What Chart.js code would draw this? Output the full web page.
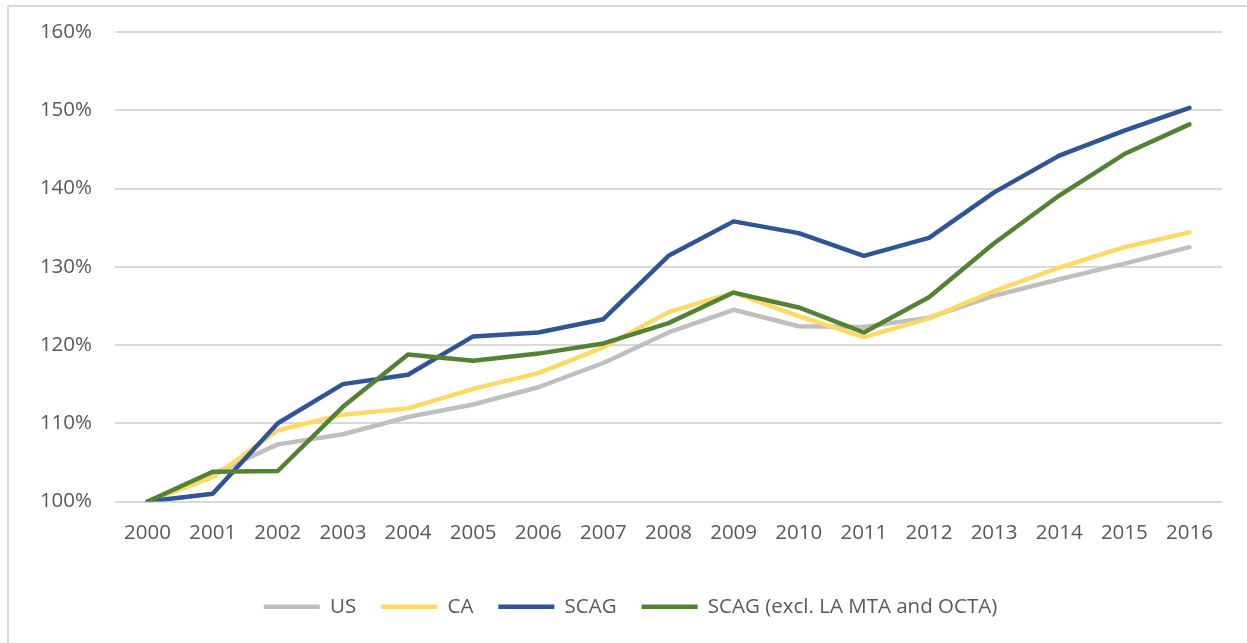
<!DOCTYPE html>
<html>
<head>
<meta charset="utf-8">
<script src="https://cdn.jsdelivr.net/npm/chart.js@4/dist/chart.umd.min.js"></script>
<style>
  html, body { margin: 0; padding: 0; background: #ffffff; }
  #frame { position: absolute; left: 7px; top: 5px; width: 1240px; height: 638px;
           border-left: 2px solid #d9d9d9; border-top: 2px solid #d9d9d9; }
  #wrap { position: absolute; left: 0; top: 0; width: 1238px; height: 636px; }
</style>
</head>
<body>
<div id="frame"><div id="wrap"><canvas id="c"></canvas></div></div>
<script>
const years = ['2000','2001','2002','2003','2004','2005','2006','2007','2008','2009','2010','2011','2012','2013','2014','2015','2016'];
const usValues   = [100, 103.5, 107.3, 108.6, 110.8, 112.4, 114.6, 117.7, 121.6, 124.5, 122.4, 122.3, 123.5, 126.3, 128.4, 130.4, 132.5];
const caValues   = [100, 103.1, 109.1, 111.1, 111.9, 114.4, 116.4, 119.7, 124.2, 126.7, 123.7, 121.0, 123.4, 126.9, 129.9, 132.5, 134.4];
const scagValues = [100, 101.0, 110.0, 115.0, 116.2, 121.1, 121.6, 123.3, 131.4, 135.8, 134.3, 131.4, 133.7, 139.5, 144.2, 147.4, 150.3];
const scagExValues = [100, 103.8, 103.9, 112.1, 118.8, 118.0, 118.9, 120.2, 122.8, 126.7, 124.8, 121.6, 126.1, 133.0, 139.1, 144.4, 148.2];
const seriesNames = ['US', 'CA', 'SCAG', 'SCAG (excl. LA MTA and OCTA)'];
const yTicks = [100, 110, 120, 130, 140, 150, 160];

const FONT = '"Open Sans", "Liberation Sans", sans-serif';
const TEXT = '#595959';

function ds(label, data, color, order) {
  return {
    label, data, borderColor: color, backgroundColor: color,
    borderWidth: 4.5, pointRadius: 0, pointHoverRadius: 0, tension: 0,
    borderJoinStyle: 'round', borderCapStyle: 'round', fill: false, order
  };
}

const legendShift = {
  id: 'legendShift',
  afterLayout(chart) {
    if (chart.legend) { chart.legend.left += 15; chart.legend.right += 15; }
  }
};

new Chart(document.getElementById('c'), {
  type: 'line',
  data: {
    labels: years,
    datasets: [
      ds(seriesNames[0], usValues, '#bfbfbf', 4),
      ds(seriesNames[1], caValues, '#ffd966', 3),
      ds(seriesNames[2], scagValues, '#2f5597', 2),
      ds(seriesNames[3], scagExValues, '#548235', 1)
    ]
  },
  plugins: [legendShift],
  options: {
    responsive: true,
    maintainAspectRatio: false,
    animation: false,
    layout: { padding: { left: 0, right: 25, top: 25, bottom: 16 } },
    plugins: {
      tooltip: { enabled: false },
      legend: {
        position: 'bottom',
        labels: {
          usePointStyle: true,
          pointStyle: 'line',
          pointStyleWidth: 56,
          boxHeight: 5,
          padding: 25,
          color: TEXT,
          font: { family: FONT, size: 20.5 },
          sort: (a, b) => a.datasetIndex - b.datasetIndex
        }
      }
    },
    scales: {
      x: {
        offset: true,
        grid: { display: false, drawTicks: false },
        border: { display: false },
        ticks: { color: TEXT, font: { family: FONT, size: 20.5 }, padding: 19, maxRotation: 0, autoSkip: false },
        afterFit: (s) => { s.height = 70; }
      },
      y: {
        min: 100, max: 160,
        afterBuildTicks: (s) => { s.ticks = yTicks.map(v => ({ value: v })); },
        grid: { color: '#d9d9d9', lineWidth: 2, drawTicks: false },
        border: { display: false },
        ticks: { color: TEXT, font: { family: FONT, size: 20.5 }, padding: 23, callback: (v) => v + '%' },
        afterFit: (s) => { s.width = 106; s.paddingTop = 0; s.paddingBottom = 0; }
      }
    }
  }
});
</script>
</body>
</html>
